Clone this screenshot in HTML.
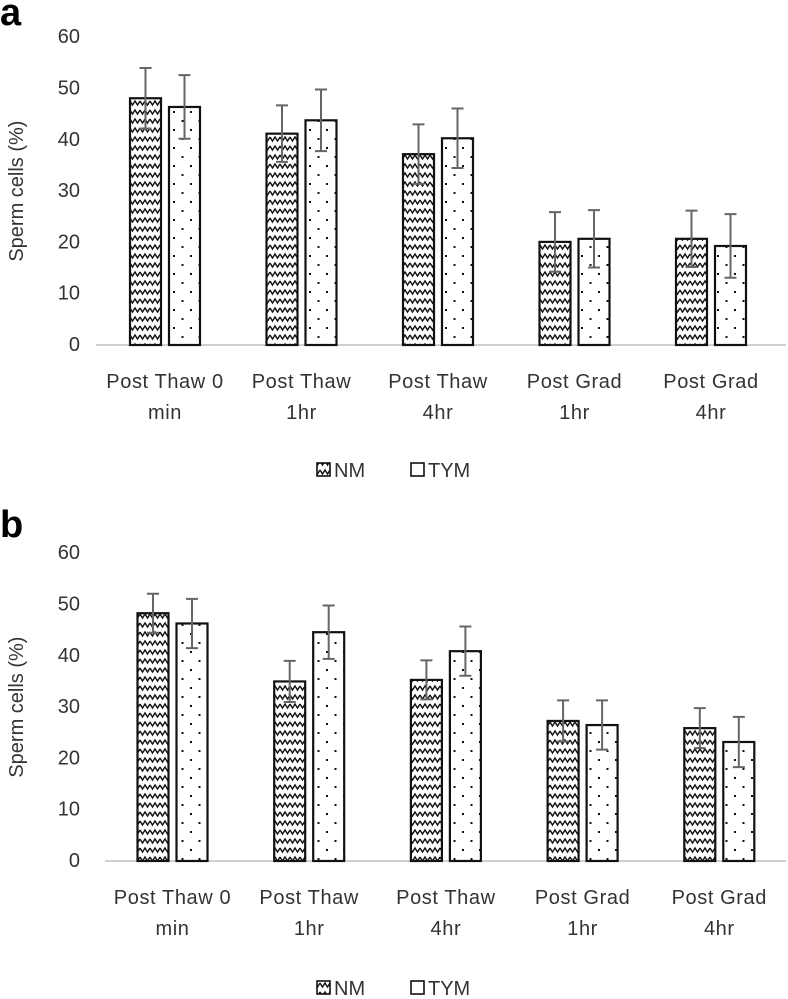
<!DOCTYPE html>
<html><head><meta charset="utf-8"><style>
body{margin:0;background:#fff;}
svg{display:block;font-family:"Liberation Sans",sans-serif;}
</style></head><body>
<svg id="s" width="788" height="999">
<defs>
<pattern id="wave" width="10" height="9" patternUnits="userSpaceOnUse">
<path d="M0,2 L2.5,6 L5,2 L7.5,6 L10,2" fill="none" stroke="#111" stroke-width="1.4"/>
</pattern>
<pattern id="dots" width="17" height="18" patternUnits="userSpaceOnUse">
<rect x="3" y="3" width="2" height="2" fill="#111"/>
<rect x="11.5" y="12" width="2" height="2" fill="#111"/>
</pattern>
</defs>
<text x="0" y="25" font-size="38" font-weight="bold">a</text>
<text x="0" y="537" font-size="38" font-weight="bold">b</text>
<g id="ga"></g><g id="gb"></g>
</svg>
<script>
const categories=[["Post Thaw 0","min"],["Post Thaw","1hr"],["Post Thaw","4hr"],["Post Grad","1hr"],["Post Grad","4hr"]];
const ticks=[0,10,20,30,40,50,60];
const aNM=[48.1,41.2,37.2,20.1,20.7];
const aNMerr=[5.9,5.5,5.8,5.8,5.5];
const aTYM=[46.4,43.8,40.3,20.7,19.3];
const aTYMerr=[6.2,6.0,5.8,5.6,6.2];
const bNM=[48.3,35.0,35.3,27.3,25.9];
const bNMerr=[3.8,4.0,3.8,4.0,3.9];
const bTYM=[46.3,44.6,40.9,26.5,23.2];
const bTYMerr=[4.8,5.2,4.8,4.8,4.9];
const NS="http://www.w3.org/2000/svg";
function mk(p,t,a){const e=document.createElementNS(NS,t);for(const k in a)e.setAttribute(k,a[k]);p.appendChild(e);return e;}
function chart(g,y0,nm,nmE,tym,tymE,gx0,pitch,axX0,legY){
  const y=v=>y0-5.13*v;
  ticks.forEach(t=>{const e=mk(g,"text",{x:80,y:y(t)+6,"font-size":20,"text-anchor":"end",fill:"#333"});e.textContent=t;
    
    });
  const cy=(y(0)+y(60))/2;
  const ti=mk(g,"text",{x:23,y:cy,"font-size":20,"text-anchor":"middle",fill:"#333",transform:`rotate(-90 23 ${cy})`});
  ti.textContent="Sperm cells (%)";
  
  
  const ax=mk(g,"line",{x1:axX0,x2:786,y1:y0,y2:y0,stroke:"#d0d0d0","stroke-width":2});
  
  
  categories.forEach((c,i)=>{
    const gx=gx0+pitch*i;
    [[nm,nmE,"url(#wave)",0,"nm"],[tym,tymE,"url(#dots)",39,"tym"]].forEach(([v,e,f,off,n])=>{
      const bx=gx+off,top=y(v[i]);
      mk(g,"rect",{x:bx,y:top,width:31,height:y0-top,fill:"#fff"});
      const r2=mk(g,"rect",{x:bx,y:top,width:31,height:y0-top,fill:f,stroke:"#111","stroke-width":2.2});
      
      
      const cx=bx+15.5,hi=y(v[i]+e[i]),lo=y(v[i]-e[i]);
      const eb=mk(g,"path",{d:`M${cx},${hi}V${lo}M${cx-6},${hi}H${cx+6}M${cx-6},${lo}H${cx+6}`,stroke:"#666","stroke-width":2,fill:"none"});
      
      
    });
    c.forEach((s,k)=>{const t=mk(g,"text",{x:gx+35,y:y0+43+k*31,"font-size":20,"letter-spacing":"0.6","text-anchor":"middle",fill:"#333"});t.textContent=s;
      
      });
  });
  const lg=mk(g,"g",{});
  
  
  mk(lg,"rect",{x:317,y:legY-14,width:13,height:13,fill:"url(#wave)",stroke:"#111","stroke-width":1.6});
  const t1=mk(lg,"text",{x:334,y:legY,"font-size":20,fill:"#333"});t1.textContent="NM";
  mk(lg,"rect",{x:411,y:legY-14,width:13,height:13,fill:"#fff",stroke:"#111","stroke-width":1.6});
  const t2=mk(lg,"text",{x:428,y:legY,"font-size":20,fill:"#333"});t2.textContent="TYM";
}
chart(document.getElementById("ga"),345,aNM,aNMerr,aTYM,aTYMerr,130,136.5,96,477);
chart(document.getElementById("gb"),861,bNM,bNMerr,bTYM,bTYMerr,137.5,136.7,105,995);
</script>
</body></html>
